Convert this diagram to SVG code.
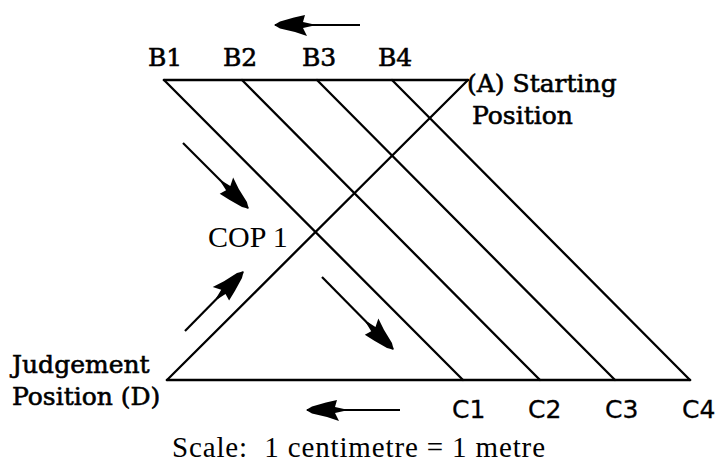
<svg xmlns="http://www.w3.org/2000/svg" width="723" height="462" viewBox="0 0 723 462">
  <defs>
    <marker id="dart" markerUnits="userSpaceOnUse" viewBox="-40 -15 44 30" markerWidth="44" markerHeight="30" refX="0" refY="0" orient="auto" overflow="visible">
      <path d="M1,0 L-5,-3.5 L-20,-7 L-32,-11 L-28,-3 L-37,-1 L-37,1 L-28,3 L-30,10 L-19,7.5 L-5,3.5 Z" fill="#000"/>
    </marker>
    <style>
      .frame { stroke: #000; stroke-width: 2.6; fill: none; stroke-linecap: round; }
      .diag { stroke: #000; stroke-width: 2.3; fill: none; stroke-linecap: round; }
      .arr { stroke: #000; stroke-width: 2.2; fill: none; marker-end: url(#dart); }
      .lbl { font-family: "DejaVu Serif", serif; font-size: 25px; fill: #000; stroke: #000; stroke-width: 0.6; }
      .clbl { font-family: "DejaVu Sans", sans-serif; font-size: 25px; fill: #000; stroke: #000; stroke-width: 0.3; }
      .times { font-family: "Liberation Serif", "Times New Roman", serif; fill: #000; }
    </style>
  </defs>
  <rect width="723" height="462" fill="#fff"/>

  <g id="frame">
    <line class="frame" x1="164" y1="80" x2="468" y2="80"/>
    <line class="frame" x1="167" y1="380" x2="690" y2="380"/>
    <line class="diag" x1="167" y1="380" x2="468" y2="80"/>
  </g>

  <g id="connectors">
    <line id="b1c1" class="diag" x1="164" y1="80" x2="463" y2="380"/>
    <line id="b2c2" class="diag" x1="242" y1="80" x2="540" y2="380"/>
    <line id="b3c3" class="diag" x1="317" y1="80" x2="615" y2="380"/>
    <line id="b4c4" class="diag" x1="392" y1="80" x2="690" y2="380"/>
    <line id="arrow-top" class="arr" x1="360" y1="25" x2="275" y2="25"/>
    <line id="arrow-left-down" class="arr" x1="183" y1="143" x2="248" y2="208"/>
    <line id="arrow-left-up" class="arr" x1="185" y1="331" x2="243" y2="272"/>
    <line id="arrow-mid-down" class="arr" x1="322" y1="277" x2="393" y2="349"/>
    <line id="arrow-bottom" class="arr" x1="400" y1="410" x2="307" y2="410"/>
  </g>

  <g id="node-B1"><text class="lbl" x="148" y="66">B1</text></g>
  <g id="node-B2"><text class="lbl" x="223" y="66">B2</text></g>
  <g id="node-B3"><text class="lbl" x="302" y="66">B3</text></g>
  <g id="node-B4"><text class="lbl" x="378" y="66">B4</text></g>

  <g id="node-A">
    <text class="lbl" x="467" y="92">(A) Starting</text>
    <text class="lbl" x="472" y="124">Position</text>
  </g>

  <g id="node-COP1">
    <text class="times" x="208" y="247" font-size="30">COP 1</text>
  </g>

  <g id="node-D">
    <text class="lbl" x="12" y="373">Judgement</text>
    <text class="lbl" x="12" y="405">Position (D)</text>
  </g>

  <g id="node-C1"><text class="clbl" x="452" y="418">C1</text></g>
  <g id="node-C2"><text class="clbl" x="528" y="418">C2</text></g>
  <g id="node-C3"><text class="clbl" x="605" y="418">C3</text></g>
  <g id="node-C4"><text class="clbl" x="682" y="418">C4</text></g>

  <g id="scale">
    <text class="times" x="172" y="457" font-size="29" textLength="373" lengthAdjust="spacing" xml:space="preserve">Scale:  1 centimetre = 1 metre</text>
  </g>
</svg>
